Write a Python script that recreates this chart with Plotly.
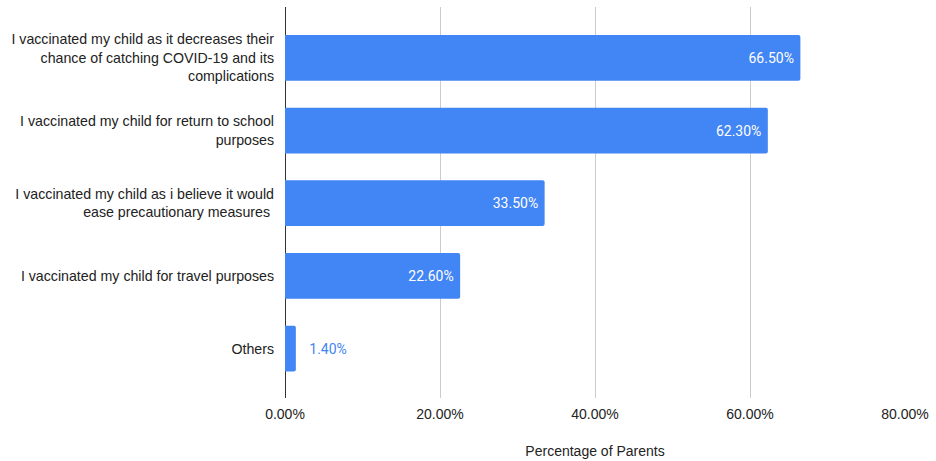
import plotly.graph_objects as go

# Reasons parents gave for vaccinating their child, top to bottom
categories = [
    "I vaccinated my child as it decreases their<br>chance of catching COVID-19 and its<br>complications",
    "I vaccinated my child for return to school<br>purposes",
    "I vaccinated my child as i believe it would<br>ease precautionary measures ",
    "I vaccinated my child for travel purposes",
    "Others",
]
values = [66.5, 62.3, 33.5, 22.6, 1.4]
tick_vals = [0, 20, 40, 60, 80]
tick_text = ["0.00%", "20.00%", "40.00%", "60.00%", "80.00%"]

BLUE = "#4285F4"

labels = [f"{v:.2f}%" for v in values]
# Short bars get their label outside, in the bar colour
positions = ["inside" if v > 5 else "outside" for v in values]
label_colors = ["#ffffff" if p == "inside" else BLUE for p in positions]
label_text = [t + " " if p == "inside" else "   " + t for t, p in zip(labels, positions)]

fig = go.Figure(
    go.Bar(
        y=categories,
        x=values,
        orientation="h",
        marker=dict(color=BLUE, cornerradius=2, line=dict(width=0)),
        text=label_text,
        textposition=positions,
        insidetextanchor="end",
        textfont=dict(family="Roboto, Arial, sans-serif", size=14, color=label_colors),
        cliponaxis=False,
        hoverinfo="skip",
    )
)

fig.update_layout(
    width=936,
    height=461,
    margin=dict(l=285, r=31, t=7, b=63),
    paper_bgcolor="white",
    plot_bgcolor="white",
    bargap=0.37,
    showlegend=False,
    font=dict(family="Liberation Sans, Arial, sans-serif", size=14.2, color="#222222"),
)

fig.update_xaxes(
    range=[0, 80],
    tickvals=tick_vals,
    ticktext=tick_text,
    showgrid=True,
    gridcolor="#cccccc",
    gridwidth=1,
    zeroline=True,
    zerolinecolor="#333333",
    zerolinewidth=1,
    showline=False,
    ticks="",
    automargin=False,
    ticklabelstandoff=6,
    tickfont=dict(size=14, color="#222222"),
    title=dict(text="Percentage of Parents", font=dict(size=14, color="#222222"), standoff=25),
)

fig.update_yaxes(
    categoryorder="array",
    categoryarray=categories,
    autorange=False,
    range=[4.68, -0.7],
    showgrid=False,
    zeroline=False,
    showline=False,
    ticks="",
    automargin=False,
    ticklabelstandoff=10,
    tickfont=dict(size=14.2, color="#222222"),
)

fig.write_html("out.html")
